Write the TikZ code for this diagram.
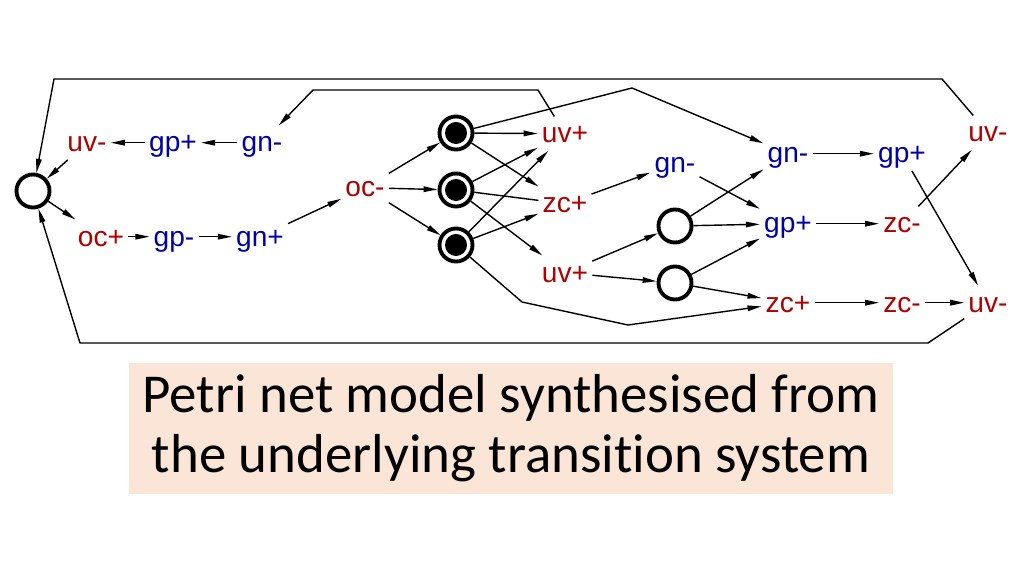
\documentclass[tikz,border=0pt]{standalone}
\usepackage{fontspec}
\setmainfont{Liberation Sans}
\newfontfamily\captionfont[RawFeature=-liga]{Carlito}
\usetikzlibrary{positioning,arrows.meta}
\definecolor{tred}{RGB}{176,0,0}
\definecolor{tblue}{RGB}{0,0,165}
\definecolor{capfill}{HTML}{FBE5D6}

\begin{document}
\begin{tikzpicture}[
    x=0.01cm, y=-0.01cm,
    every node/.style={font=\fontsize{8}{9}\selectfont},
    lab/.style={anchor=base, inner sep=1pt, text height=1.2ex, text depth=0.2ex},
    up/.style={lab, text=tred},
    gate/.style={lab, text=tblue},
    place/.style={draw, circle, line width=1.1pt, minimum size=3.3mm, inner sep=0pt},
    marked/.style={place, path picture={\fill (path picture bounding box.center) circle (1.1mm);}},
    arc/.style={-{Triangle[length=1.4mm, width=0.55mm]}, line width=0.4pt},
    readarc/.style={line width=0.4pt}
]
\useasboundingbox (0,0) rectangle (1024,576);

% Left place and its two branches
\node[place] (p0) at (33,191) {};
\node[up] (uvm1) at (87,152) {uv-};
\node[gate] (gpp1) at (173,152) {gp+};
\node[gate] (gnm1) at (262,152) {gn-};
\node[up] (ocp) at (101,246) {oc+};
\node[gate] (gpm) at (174,246) {gp-};
\node[gate] (gnp) at (260,246) {gn+};
\node[up] (ocm) at (365,197) {oc-};

% Marked places
\node[marked] (m1) at (456,133) {};
\node[marked] (m2) at (456,190) {};
\node[marked] (m3) at (456,245) {};

% Middle column
\node[up] (uvp1) at (565,143) {uv+};
\node[up] (zcp1) at (565,213) {zc+};
\node[up] (uvp2) at (565,282) {uv+};
\node[gate] (gnm2) at (675,173) {gn-};
\node[place] (p1) at (675,226) {};
\node[place] (p2) at (675,283) {};

% Right columns
\node[gate] (gnm3) at (788,163) {gn-};
\node[gate] (gpp2) at (788,233) {gp+};
\node[up] (zcp2) at (788,312) {zc+};
\node[gate] (gpp3) at (902,163) {gp+};
\node[up] (zcm1) at (902,233) {zc-};
\node[up] (zcm2) at (902,312) {zc-};
\node[up] (uvm2) at (988,142) {uv-};
\node[up] (uvm3) at (988,312) {uv-};

% Corners of the long arcs
\coordinate (tl) at (54,79);
\coordinate (tr) at (942,79);
\coordinate (bl) at (80,343);
\coordinate (br) at (928,343);
\coordinate (ua) at (538,90);
\coordinate (ub) at (313,90);
\coordinate (ma) at (632,88);
\coordinate (mb) at (522,302);
\coordinate (mc) at (628,325);

% Left part
\draw[arc] (uvm1) -- (p0);
\draw[arc] (gpp1) -- (uvm1);
\draw[arc] (gnm1) -- (gpp1);
\draw[arc] (p0) -- (ocp);
\draw[arc] (ocp) -- (gpm);
\draw[arc] (gpm) -- (gnp);
\draw[arc] (gnp) -- (ocm);
\draw[arc] (ocm) -- (m1);
\draw[arc] (ocm) -- (m2);
\draw[arc] (ocm) -- (m3);

% From the marked places
\draw[arc] (m1) -- (uvp1);
\draw[arc] (m1) -- (zcp1);
\draw[arc] (m2) -- (uvp1);
\draw[readarc] (m2) -- (zcp1);
\draw[arc] (m2) -- (uvp2);
\draw[arc] (m3) -- (uvp1);
\draw[arc] (m3) -- (zcp1);

% Middle part
\draw[arc] (zcp1) -- (gnm2);
\draw[arc] (uvp2) -- (p1);
\draw[arc] (uvp2) -- (p2);
\draw[arc] (gnm2) -- (gpp2);
\draw[arc] (p1) -- (gnm3);
\draw[arc] (p1) -- (gpp2);
\draw[arc] (p2) -- (gpp2);
\draw[arc] (p2) -- (zcp2);

% Right part
\draw[arc] (gnm3) -- (gpp3);
\draw[arc] (gpp2) -- (zcm1);
\draw[arc] (zcm1) -- (uvm2);
\draw[arc] (gpp3) -- (uvm3);
\draw[arc] (zcp2) -- (zcm2);
\draw[arc] (zcm2) -- (uvm3);

% Long arcs
\draw[arc] (uvm2) -- (tr) -- (tl) -- (p0);
\draw[arc] (uvm3) -- (br) -- (bl) -- (p0);
\draw[arc] (uvp1) -- (ua) -- (ub) -- (gnm1);
\draw[arc] (m1) -- (ma) -- (gnm3);
\draw[arc] (m3) -- (mb) -- (mc) -- (zcp2);

% Caption
\node[fill=capfill, minimum width=7.64cm, minimum height=1.31cm, inner sep=0pt,
      align=center, font=\captionfont\fontsize{15.6}{17}\selectfont] (caption) at (511,428.5)
      {Petri net model synthesised from\\the underlying transition system};

\end{tikzpicture}
\end{document}
